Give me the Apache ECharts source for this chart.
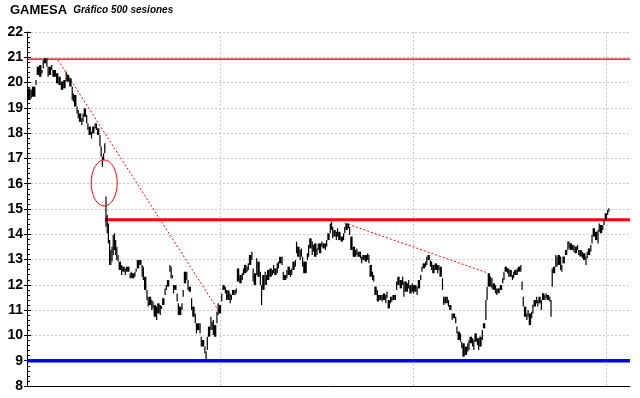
<!DOCTYPE html>
<html>
<head>
<meta charset="utf-8">
<script src="https://cdn.jsdelivr.net/npm/echarts@6/dist/echarts.min.js"></script>
<style>
  html, body { margin: 0; padding: 0; background: #fff; }
  #chart { width: 640px; height: 398px; }
</style>
</head>
<body>
<div id="chart"></div>
<script>
// sesion (0..500), minimo y maximo
let sessions = [
  0, 3, 4, 7, 8, 10, 12, 13, 14, 16, 17, 18, 20, 21, 24, 26, 28, 30, 32, 33,
  35, 37, 38, 39, 41, 42, 43, 45, 46, 47, 49, 50, 51, 53, 54, 56, 57, 58, 60, 61,
  62, 63, 64,
  65, 66, 67, 68, 69, 70, 71, 72, 73, 74, 75, 76, 78, 79, 81, 82, 83, 85, 86, 87,
  89, 90, 91, 93, 95, 96, 97, 99, 100, 101, 103, 104, 105, 107, 108, 110, 111, 112, 114, 115,
  116, 118, 119, 120, 121, 122, 124, 125, 126, 128, 129, 130, 132, 133, 134, 136, 137, 139, 140, 141,
  143, 144, 145, 147, 148, 149, 150, 152, 153, 154, 155, 157, 158, 159, 161, 162, 164, 165, 166,
  168, 169, 170, 172, 173, 174, 176, 178, 179, 180, 182, 183, 184, 186, 187, 188, 190, 191, 193, 194,
  195, 197, 198, 199, 201, 203, 204, 205, 207, 208, 209, 211, 212, 213, 215, 216, 218, 219, 220, 222,
  223, 224, 226, 227, 228, 229, 232, 233, 234, 236, 237, 238, 240, 241, 242, 244, 245, 247, 248, 249,
  251, 252, 253, 254, 256, 257, 258, 260, 262, 263, 264, 266, 267, 268, 270,
  272, 273, 274, 276, 277, 278, 280, 282, 283, 284, 286, 287, 288, 290, 291, 292, 294, 295, 297, 298,
  299, 301, 302, 303, 305, 306, 307, 309, 311, 312, 313, 315, 316, 317, 319, 320, 321, 323, 324, 326,
  327, 328, 330, 331, 332, 334, 335, 336, 338, 340, 341, 342, 344, 345, 346, 348, 349, 350, 352, 353,
  355, 356, 357, 359, 360, 361, 363, 365, 366, 367, 369, 370, 371, 373, 374, 375, 377, 378, 380, 381,
  382,
  384, 385, 386, 388, 389, 390, 392, 394, 395, 396, 398, 399, 400, 402, 403, 404, 406, 407, 409, 410,
  411, 412, 414, 415, 416, 418, 419, 420, 422, 423, 424, 426, 427, 429, 430, 431, 433, 434, 435, 436,
  438, 439, 440, 442, 443, 444, 446, 448, 449, 450, 452, 453, 454, 456, 457, 458, 460, 461, 463, 464,
  465, 467, 468, 469, 471, 473, 474, 475, 477, 478, 479, 481, 482
]
let lows = [
  19.31, 19.38, 19.44, 19.90, 20.30, 20.23, 20.37, 20.56, 20.76, 20.63, 20.23, 20.30, 20.50, 20.23, 19.97, 19.90, 19.71, 19.77, 20.04, 20.04,
  19.84, 19.31, 19.24, 19.05, 18.78, 18.59, 18.45, 18.32, 18.45, 18.65, 18.39, 18.12, 17.93, 17.79, 17.99, 18.19, 18.12, 17.93, 17.47, 17.07,
  16.67, 16.94, 17.20,
  14.30, 14.04, 13.64, 12.79, 12.79, 12.92, 13.18, 13.38, 13.18, 12.98, 12.92, 12.59, 12.39, 12.52, 12.39, 12.52, 12.52, 12.26, 12.26, 12.26,
  12.32, 12.52, 12.65, 12.79, 12.32, 12.19, 11.80, 11.40, 11.14, 11.20, 11.01, 11.07, 10.74, 10.61, 10.87, 10.81, 11.05, 11.20, 11.60, 11.80,
  11.93, 12.52, 12.26, 12.26, 11.66, 11.80, 11.34, 10.81, 10.81, 11.01, 11.53, 12.06, 12.19, 11.80, 11.73, 11.01, 10.74, 10.48, 10.08, 10.21,
  10.08, 9.56, 9.56, 9.29, 9.03, 9.42, 9.95, 10.21, 10.21, 10.02, 9.95, 10.48, 10.81, 10.87, 11.34, 11.80, 11.66, 11.40, 11.40,
  11.27, 11.40, 11.60, 11.60, 11.66, 12.13, 12.06, 12.19, 12.39, 12.46, 12.52, 12.59, 12.79, 12.98, 12.13, 11.99, 12.39, 12.32, 11.99, 11.20,
  11.80, 11.99, 11.99, 12.19, 12.32, 12.39, 12.46, 12.39, 12.46, 12.65, 12.85, 12.79, 12.19, 12.19, 12.26, 12.39, 12.32, 12.39, 12.59, 12.72,
  13.25, 13.11, 12.98, 13.11, 12.72, 12.46, 12.98, 13.11, 13.44, 13.18, 13.31, 13.11, 13.18, 13.38, 13.25, 13.51, 13.44, 13.38, 13.51, 13.77,
  14.04, 14.17, 13.84, 13.91, 13.77, 13.91, 13.77, 13.71, 13.77, 14.04, 14.17, 14.24, 13.97, 13.38, 13.11,
  13.11, 13.18, 13.11, 13.05, 12.85, 12.98, 12.92, 12.98, 12.85, 12.32, 12.19, 12.13, 11.60, 11.34, 11.34, 11.40, 11.34, 11.40, 11.27, 11.47,
  11.07, 11.27, 11.34, 11.40, 11.40, 11.80, 11.99, 11.86, 11.99, 11.53, 11.73, 11.73, 11.86, 11.66, 11.73, 11.66, 11.73, 11.60, 11.86, 12.19,
  12.52, 12.65, 12.72, 12.79, 12.98, 12.72, 12.59, 12.46, 12.59, 12.46, 12.59, 12.32, 11.80, 11.20, 11.27, 11.27, 11.14, 11.01, 10.61, 10.68,
  10.48, 10.08, 9.82, 9.75, 9.49, 9.16, 9.23, 9.36, 9.42, 9.69, 9.56, 9.42, 9.75, 9.62, 9.42, 9.56, 9.82, 10.28, 10.61, 11.40,
  11.93,
  11.93, 11.86, 11.80, 11.67, 11.60, 11.67, 11.80, 12.06, 12.19, 12.52, 12.46, 12.32, 12.32, 12.19, 12.26, 12.39, 12.39, 12.52, 12.52, 11.80,
  11.14, 10.74, 10.61, 10.74, 10.41, 10.68, 10.87, 11.14, 11.27, 11.14, 11.27, 11.01, 11.40, 11.40, 11.47, 11.40, 11.34, 10.74, 11.93, 12.46,
  12.72, 12.72, 12.79, 12.59, 12.52, 12.85, 13.18, 13.38, 13.44, 13.38, 13.38, 13.31, 13.25, 13.38, 13.18, 13.12, 13.05, 12.98, 12.79, 13.05,
  13.18, 13.31, 13.64, 13.91, 13.77, 13.64, 14.10, 14.04, 14.17, 14.37, 14.57, 14.76, 14.89
]
let highs = [
  19.77, 19.71, 19.84, 20.10, 20.63, 20.69, 20.50, 20.89, 20.96, 20.96, 20.63, 20.63, 20.69, 20.50, 20.37, 20.23, 20.04, 20.10, 20.43, 20.30,
  20.17, 19.84, 19.57, 19.51, 19.05, 18.92, 18.78, 18.59, 18.78, 18.98, 18.72, 18.39, 18.26, 18.06, 18.26, 18.39, 18.39, 18.19, 17.93, 17.47,
  17.07, 17.20, 17.60,
  15.49, 14.76, 14.43, 13.77, 13.38, 13.51, 13.97, 14.04, 13.77, 13.51, 13.18, 12.92, 12.79, 12.72, 12.65, 12.72, 12.72, 12.46, 12.52, 12.46,
  12.52, 12.65, 12.98, 12.98, 12.79, 12.72, 12.32, 11.80, 11.53, 11.53, 11.40, 11.34, 11.20, 11.14, 11.27, 11.20, 11.16, 11.47, 11.86, 11.99,
  12.19, 12.79, 12.72, 12.39, 11.99, 11.99, 11.66, 11.27, 11.14, 11.27, 11.80, 12.52, 12.52, 12.19, 11.93, 11.47, 11.14, 10.87, 10.48, 10.48,
  10.48, 9.95, 9.82, 9.56, 9.36, 9.95, 10.35, 10.74, 10.54, 10.61, 10.41, 10.94, 11.27, 11.20, 11.66, 11.99, 11.93, 11.80, 11.78,
  11.66, 11.60, 11.80, 11.80, 11.86, 12.65, 12.39, 12.46, 12.65, 12.79, 12.72, 12.85, 13.18, 13.31, 12.65, 12.46, 13.05, 12.92, 12.52, 11.99,
  12.39, 12.52, 12.39, 12.59, 12.65, 12.59, 12.79, 12.65, 12.85, 12.92, 13.11, 13.11, 12.52, 12.39, 12.59, 12.72, 12.59, 12.65, 12.92, 12.98,
  13.71, 13.51, 13.38, 13.44, 13.11, 12.92, 13.25, 13.58, 13.84, 13.71, 13.58, 13.64, 13.44, 13.64, 13.64, 13.71, 13.64, 13.64, 13.77, 14.04,
  14.43, 14.50, 14.30, 14.17, 14.10, 14.24, 14.10, 13.91, 14.04, 14.30, 14.43, 14.43, 14.30, 13.91, 13.51,
  13.38, 13.44, 13.31, 13.31, 13.11, 13.18, 13.18, 13.25, 13.18, 12.79, 12.52, 12.39, 11.93, 11.80, 11.60, 11.60, 11.60, 11.66, 11.60, 11.73,
  11.40, 11.53, 11.53, 11.60, 11.60, 12.13, 12.32, 12.19, 12.32, 12.13, 12.13, 12.06, 12.19, 11.99, 12.06, 11.99, 11.99, 11.93, 12.19, 12.39,
  12.72, 12.85, 12.92, 13.11, 13.18, 12.98, 12.92, 12.79, 12.85, 12.79, 12.79, 12.72, 12.26, 11.53, 11.53, 11.53, 11.40, 11.20, 10.87, 10.87,
  10.74, 10.35, 10.15, 10.08, 9.75, 9.69, 9.56, 9.69, 9.82, 9.95, 9.89, 9.82, 10.08, 9.89, 9.89, 9.95, 10.21, 10.48, 11.40, 11.93,
  12.46,
  12.32, 12.26, 12.06, 11.99, 11.86, 11.86, 11.99, 12.26, 12.52, 12.72, 12.65, 12.65, 12.59, 12.39, 12.52, 12.59, 12.65, 12.72, 12.79, 12.13,
  11.53, 11.14, 10.87, 11.01, 10.87, 10.94, 11.21, 11.40, 11.53, 11.40, 11.53, 11.40, 11.67, 11.60, 11.67, 11.60, 11.53, 11.40, 12.65, 12.72,
  13.18, 13.12, 13.18, 13.12, 12.79, 13.12, 13.38, 13.71, 13.71, 13.64, 13.58, 13.58, 13.51, 13.58, 13.38, 13.38, 13.31, 13.25, 13.12, 13.31,
  13.44, 13.58, 13.97, 14.24, 14.10, 14.17, 14.43, 14.37, 14.37, 14.57, 14.83, 14.96, 15.03
]

// niveles y directrices dibujadas sobre el grafico
let resistTop = 20.93
let support = 14.57
let floorLevel = 9
let trendDown = [[25.7, 20.89], [159.5, 10.93]]
let trendMid = [[263.3, 14.45], [382.1, 12.47]]
let gapMark = { center: [64, 16.03], radius: [10.8, 0.91] }

let myChart = echarts.init(document.getElementById('chart'))

function renderBar (params, api) {
  let i = params.dataIndex
  let s = api.value(0)
  let next = i + 1 < sessions.length ? sessions[i + 1] : s + 1
  let p0 = api.coord([s, api.value(2)])
  let p1 = api.coord([next, api.value(1)])
  return {
    type: 'rect',
    shape: {
      x: p0[0],
      y: p0[1],
      width: Math.max(p1[0] - p0[0], 1.2),
      height: Math.max(p1[1] - p0[1], 1)
    },
    style: { fill: '#000' }
  }
}

function levelLine (data, color, width, type) {
  return {
    type: 'line',
    data: data,
    symbol: 'none',
    silent: true,
    lineStyle: { color: color, width: width, type: type || 'solid' },
    z: 3
  }
}

let gridLine = { show: true, lineStyle: { color: '#c8c8c8', type: [2, 2], width: 1 } }

myChart.setOption({
  animation: false,
  title: {
    left: 5,
    top: -1,
    text: '{a|GAMESA}  {b|Gráfico 500 sesiones}',
    textStyle: {
      fontSize: 11,
      rich: {
        a: { fontFamily: 'Liberation Sans', fontWeight: 'bold', fontSize: 13, color: '#000' },
        b: { fontFamily: 'Liberation Sans', fontStyle: 'italic', fontSize: 10, color: '#000' }
      }
    }
  },
  grid: { left: 27, right: 10, top: 32, bottom: 12 },
  xAxis: {
    type: 'value',
    min: 0,
    max: 500,
    interval: 160,
    axisLine: { lineStyle: { color: '#000', width: 1 } },
    axisTick: { show: false },
    axisLabel: { show: false },
    splitLine: Object.assign({ showMinLine: false, showMaxLine: false }, gridLine)
  },
  yAxis: [{
    type: 'value',
    min: 8,
    max: 22,
    interval: 1,
    axisLine: { show: true, lineStyle: { color: '#000', width: 1 } },
    axisTick: { show: true, inside: true, length: 4, lineStyle: { color: '#000' } },
    minorTick: { show: true, splitNumber: 5, length: 3, lineStyle: { color: '#000' } },
    axisLabel: {
      margin: 4,
      color: '#000',
      fontFamily: 'Liberation Sans',
      fontWeight: 'bold',
      fontSize: 14
    },
    splitLine: Object.assign({ showMinLine: false }, gridLine)
  }, {
    type: 'value',
    position: 'left',
    min: 8,
    max: 22,
    interval: 1,
    axisLine: { show: false },
    axisTick: { show: true, length: 3, lineStyle: { color: '#000' } },
    axisLabel: { show: false },
    splitLine: { show: false }
  }],
  series: [
    levelLine([[0, resistTop], [500, resistTop]], '#cc0000', 1.3),
    levelLine([[64.8, support], [500, support]], '#ff0000', 3),
    levelLine([[0, floorLevel], [500, floorLevel]], '#0000ff', 3.5),
    levelLine(trendDown, '#ff0000', 1, [2, 2]),
    levelLine(trendMid, '#ff0000', 1, [2, 2]),
    {
      type: 'custom',
      renderItem: renderBar,
      data: sessions.map((s, i) => [s, lows[i], highs[i]]),
      encode: { x: 0, y: [1, 2] },
      silent: true,
      z: 4
    }
  ]
})

// elipse que marca el hueco
let c = myChart.convertToPixel({ gridIndex: 0 }, gapMark.center)
let e = myChart.convertToPixel({ gridIndex: 0 }, [gapMark.center[0] + gapMark.radius[0], gapMark.center[1] + gapMark.radius[1]])
myChart.setOption({
  graphic: [{
    type: 'ellipse',
    shape: { cx: c[0], cy: c[1], rx: Math.abs(e[0] - c[0]), ry: Math.abs(c[1] - e[1]) },
    style: { fill: 'none', stroke: '#ff0000', lineWidth: 1 },
    z: 10
  }]
})
</script>
</body>
</html>
